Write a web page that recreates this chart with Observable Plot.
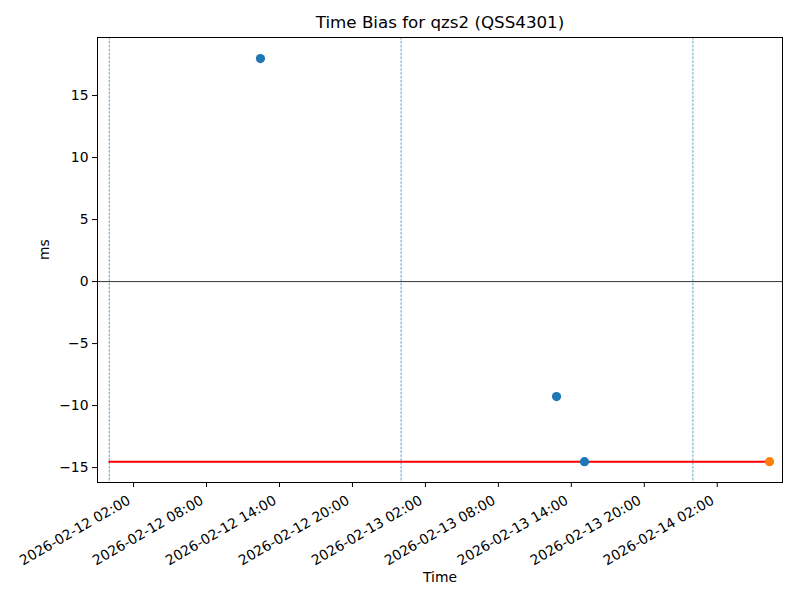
<!DOCTYPE html>
<html>
<head>
<meta charset="utf-8">
<script src="https://cdn.jsdelivr.net/npm/d3@7"></script>
<script src="https://cdn.jsdelivr.net/npm/@observablehq/plot@0.6"></script>
<style>
  html, body { margin: 0; padding: 0; background: #fff; }
  svg { font-family: "DejaVu Sans", sans-serif; }
</style>
</head>
<body>
<div id="chart"></div>
<script>
// Data
const titleText = "Time Bias for qzs2 (QSS4301)";
const pointTimes = ["2026-02-12T12:26Z", "2026-02-13T12:47Z", "2026-02-13T15:05Z"];
const pointValues = [17.98, -9.27, -14.52];
const latestTimes = ["2026-02-14T06:18Z"];
const latestValues = [-14.52];
const dayBoundaries = ["2026-02-12T00:00Z", "2026-02-13T00:00Z", "2026-02-14T00:00Z"];
const biasLevel = -14.52;
const xTicks = ["2026-02-12T02:00Z", "2026-02-12T08:00Z", "2026-02-12T14:00Z", "2026-02-12T20:00Z",
                "2026-02-13T02:00Z", "2026-02-13T08:00Z", "2026-02-13T14:00Z", "2026-02-13T20:00Z",
                "2026-02-14T02:00Z"];
const yTicks = [-15, -10, -5, 0, 5, 10, 15];
const xDomain = ["2026-02-11T23:02Z", "2026-02-14T07:22Z"];
const yDomain = [-16.2, 19.68];

const points = pointTimes.map((t, i) => ({t: new Date(t), v: pointValues[i]}));
const latest = latestTimes.map((t, i) => ({t: new Date(t), v: latestValues[i]}));
const biasLine = [
  {t: new Date(dayBoundaries[0]), v: biasLevel},
  {t: new Date(latestTimes[0]), v: biasLevel}
];
const fmt = d3.utcFormat("%Y-%m-%d %H:%M");
const tickDates = xTicks.map(d => new Date(d));

const chart = Plot.plot({
  width: 800,
  height: 600,
  marginLeft: 97,
  marginRight: 18,
  marginTop: 37,
  marginBottom: 118,
  style: {fontFamily: "DejaVu Sans, sans-serif", fontSize: "13.9px", color: "#000", background: "#fff"},
  x: {type: "utc", domain: xDomain.map(d => new Date(d))},
  y: {domain: yDomain},
  marks: [
    Plot.ruleY([0], {stroke: "#000", strokeWidth: 0.8}),
    Plot.ruleX(dayBoundaries.map(d => new Date(d)), {stroke: "#1f77b4", strokeWidth: 0.7, strokeDasharray: "2.6,1.3"}),
    Plot.line(biasLine, {x: "t", y: "v", stroke: "red", strokeWidth: 2}),
    Plot.dot(points, {x: "t", y: "v", r: 4.6, fill: "#1f77b4", stroke: "none"}),
    Plot.dot(latest, {x: "t", y: "v", r: 4.6, fill: "#ff7f0e", stroke: "none"}),
    Plot.frame({stroke: "#000", strokeWidth: 1}),
    Plot.axisY({ticks: yTicks, tickSize: 5, tickPadding: 4, label: null, fontSize: 13.9}),
    Plot.axisX({ticks: tickDates, tickFormat: () => "", tickSize: 5, label: null}),
    Plot.text(tickDates, {x: d => d, text: d => fmt(d), frameAnchor: "bottom", dx: -7, dy: 12,
      rotate: -30, textAnchor: "end", lineAnchor: "top", fontSize: 13.9, fill: "#000"}),
    Plot.text([titleText], {frameAnchor: "top", dy: -15, fontSize: 16.7, lineAnchor: "middle", fill: "#000"}),
    Plot.text(["ms"], {frameAnchor: "left", dx: -53, rotate: -90, fontSize: 13.9, fill: "#000"}),
    Plot.text(["Time"], {frameAnchor: "bottom", dy: 99, fontSize: 13.9, fill: "#000"})
  ]
});
document.getElementById("chart").appendChild(chart);
</script>
</body>
</html>
